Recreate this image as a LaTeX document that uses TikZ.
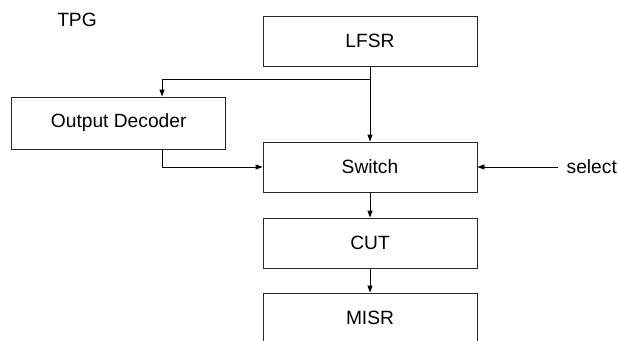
\documentclass[tikz,border=0pt]{standalone}
\usepackage{fontspec}
\setmainfont{Liberation Sans}
\usetikzlibrary{arrows.meta}
\begin{document}
\begin{tikzpicture}[x=1pt,y=-1pt,
  blk/.style={draw=black!85, line width=0.9pt, minimum width=214pt, minimum height=50pt, inner sep=0pt, font=\fontsize{19.2}{22}\selectfont},
  lbl/.style={font=\fontsize{19.2}{22}\selectfont, inner sep=0pt},
  arr/.style={line width=0.9pt, -{Triangle[length=7pt,width=5pt]}},
  ln/.style={line width=0.9pt}]
\useasboundingbox (0,0) rectangle (618,340);
\clip (0,0) rectangle (618,340);
\node[lbl] (tpg) at (77,20) {TPG};
\node[blk] (lfsr) at (370,41) {LFSR};
\node[blk, minimum height=52pt] (od) at (118.7,123) {Output Decoder};
\node[blk] (sw) at (370,167) {Switch};
\node[blk] (cut) at (370,243) {CUT};
\node[blk] (misr) at (370,318) {MISR};
\node[lbl, anchor=west, inner xsep=8.5pt] (sel) at (558,167) {select};
\coordinate (br) at (370,79);
\draw[arr] (lfsr.south) -- (sw.north);
\draw[arr] (br) -| ([xshift=43.3pt]od.north);
\draw[arr] ([xshift=43.3pt]od.south) |- (sw.west);
\draw[arr] (sel.west) -- (sw.east);
\draw[arr] (sw.south) -- (cut.north);
\draw[arr] (cut.south) -- (misr.north);
\end{tikzpicture}
\end{document}
